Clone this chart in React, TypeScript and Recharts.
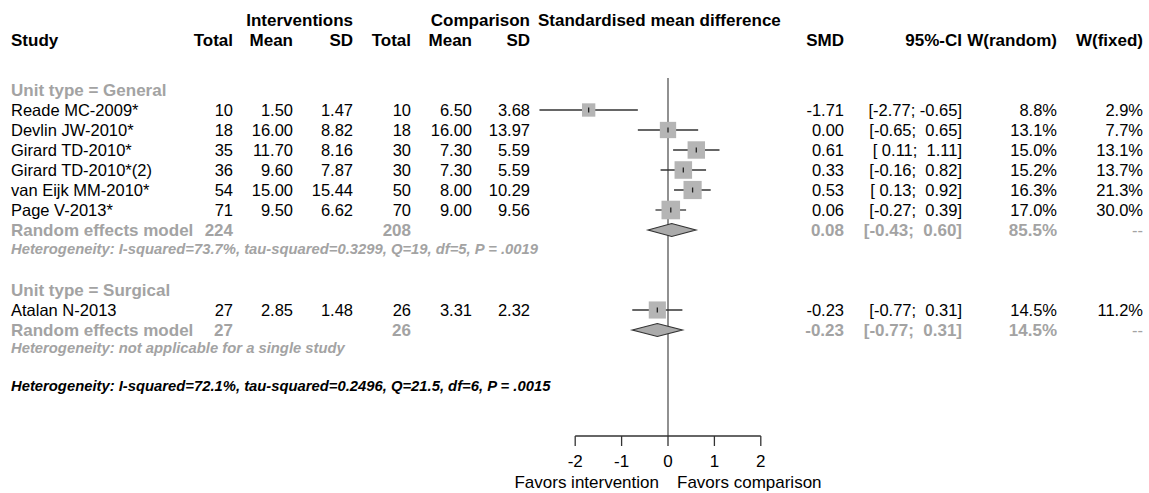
import React from 'react';
import { ComposedChart, Scatter, XAxis, YAxis, ReferenceLine, ErrorBar } from 'recharts';

// studies (row index = position in the table)
const studyNames = ['Reade MC-2009*', 'Devlin JW-2010*', 'Girard TD-2010*', 'Girard TD-2010*(2)', 'van Eijk MM-2010*', 'Page V-2013*', 'Atalan N-2013'];
const studyRows = [0, 1, 2, 3, 4, 5, 10];
const intTotal = [10, 18, 35, 36, 54, 71, 27];
const intMean = [1.5, 16.0, 11.7, 9.6, 15.0, 9.5, 2.85];
const intSD = [1.47, 8.82, 8.16, 7.87, 15.44, 6.62, 1.48];
const compTotal = [10, 18, 30, 30, 50, 70, 26];
const compMean = [6.5, 16.0, 7.3, 7.3, 8.0, 9.0, 3.31];
const compSD = [3.68, 13.97, 5.59, 5.59, 10.29, 9.56, 2.32];
const smd = [-1.71, 0.0, 0.61, 0.33, 0.53, 0.06, -0.23];
const ciLow = [-2.77, -0.65, 0.11, -0.16, 0.13, -0.27, -0.77];
const ciHigh = [-0.65, 0.65, 1.11, 0.82, 0.92, 0.39, 0.31];
const wRandom = [8.8, 13.1, 15.0, 15.2, 16.3, 17.0, 14.5];
const wFixed = [2.9, 7.7, 13.1, 13.7, 21.3, 30.0, 11.2];

// subgroups
const groupNames = ['Unit type = General', 'Unit type = Surgical'];
const groupLabelRows = [-1, 9];
const pooledRows = [6, 11];
const hetRows = [6.95, 11.9];
const pooledIntTotal = [224, 27];
const pooledCompTotal = [208, 26];
const pooledSmd = [0.08, -0.23];
const pooledLow = [-0.43, -0.77];
const pooledHigh = [0.6, 0.31];
const pooledWRandom = [85.5, 14.5];
const hetTexts = [
  'Heterogeneity: I-squared=73.7%, tau-squared=0.3299, Q=19, df=5, P = .0019',
  'Heterogeneity: not applicable for a single study',
];
const overallHet = 'Heterogeneity: I-squared=72.1%, tau-squared=0.2496, Q=21.5, df=6, P = .0015';
const overallHetRow = 13.8;

const axisTicks = [-2, -1, 0, 1, 2];

// layout
const W = 1149;
const H = 493;
const ZERO_PX = 668;
const PX_PER_UNIT = 46.4;
const ROW0_PX = 110;
const ROW_PX = 20;
const AXIS_H = 57;
const PLOT_BOTTOM = H - AXIS_H;
const xDomain = [(0 - ZERO_PX) / PX_PER_UNIT, (W - ZERO_PX) / PX_PER_UNIT];
const yDomain = [(0 - ROW0_PX) / ROW_PX, (PLOT_BOTTOM - ROW0_PX) / ROW_PX];

const COL: Record<string, number> = {
  study: 11,
  intTotal: 233,
  intMean: 293,
  intSD: 353,
  compTotal: 411,
  compMean: 472,
  compSD: 530,
  smd: 844,
  ci: 962,
  wr: 1057,
  wf: 1143,
  smdHead: 538,
};

const FONT = '"Liberation Sans", Arial, Helvetica, sans-serif';
const GREY = '#a3a3a3';
const DARK = '#333';

const f2 = (v: number) => v.toFixed(2);
const ci = (lo: number, hi: number) => `[${f2(lo).padStart(5)}; ${f2(hi).padStart(5)}]`;
const pct = (v: number) => v.toFixed(1) + '%';

type Cell = { text: string; col: string; anchor?: 'start' | 'middle' | 'end'; kind?: string };

const R = (text: string, col: string, kind = 'normal'): Cell => ({ text, col, anchor: 'end', kind });
const L = (text: string, col: string, kind = 'normal'): Cell => ({ text, col, anchor: 'start', kind });

// table rows
const tableRows: { x: number; y: number; cells: Cell[] }[] = [];
tableRows.push({
  x: 0, y: -4.5, cells: [
    R('Interventions', 'intSD', 'bold'),
    R('Comparison', 'compSD', 'bold'),
    L('Standardised mean difference', 'smdHead', 'bold'),
  ],
});
tableRows.push({
  x: 0, y: -3.5, cells: [
    L('Study', 'study', 'bold'),
    R('Total', 'intTotal', 'bold'), R('Mean', 'intMean', 'bold'), R('SD', 'intSD', 'bold'),
    R('Total', 'compTotal', 'bold'), R('Mean', 'compMean', 'bold'), R('SD', 'compSD', 'bold'),
    R('SMD', 'smd', 'bold'), R('95%-CI', 'ci', 'bold'), R('W(random)', 'wr', 'bold'), R('W(fixed)', 'wf', 'bold'),
  ],
});
studyNames.forEach((name, i) => {
  tableRows.push({
    x: 0, y: studyRows[i], cells: [
      L(name, 'study'),
      R(String(intTotal[i]), 'intTotal'), R(f2(intMean[i]), 'intMean'), R(f2(intSD[i]), 'intSD'),
      R(String(compTotal[i]), 'compTotal'), R(f2(compMean[i]), 'compMean'), R(f2(compSD[i]), 'compSD'),
      R(f2(smd[i]), 'smd'), R(ci(ciLow[i], ciHigh[i]), 'ci'), R(pct(wRandom[i]), 'wr'), R(pct(wFixed[i]), 'wf'),
    ],
  });
});
groupNames.forEach((g, i) => {
  tableRows.push({ x: 0, y: groupLabelRows[i], cells: [L(g, 'study', 'greyBold')] });
  tableRows.push({
    x: 0, y: pooledRows[i], cells: [
      L('Random effects model', 'study', 'greyBold'),
      R(String(pooledIntTotal[i]), 'intTotal', 'greyBold'),
      R(String(pooledCompTotal[i]), 'compTotal', 'greyBold'),
      R(f2(pooledSmd[i]), 'smd', 'greyBold'),
      R(ci(pooledLow[i], pooledHigh[i]), 'ci', 'greyBold'),
      R(pct(pooledWRandom[i]), 'wr', 'greyBold'),
      R('--', 'wf', 'grey'),
    ],
  });
  tableRows.push({ x: 0, y: hetRows[i], cells: [L(hetTexts[i], 'study', 'het')] });
});
tableRows.push({ x: 0, y: overallHetRow, cells: [L(overallHet, 'study', 'hetBlack')] });

const kindStyle = (kind?: string): React.CSSProperties => {
  switch (kind) {
    case 'bold': return { fontWeight: 700, fill: '#000', fontSize: 17 };
    case 'greyBold': return { fontWeight: 700, fill: GREY, fontSize: 17 };
    case 'grey': return { fill: GREY, fontSize: 16.5 };
    case 'het': return { fontWeight: 700, fontStyle: 'italic', fill: GREY, fontSize: 14.8 };
    case 'hetBlack': return { fontWeight: 700, fontStyle: 'italic', fill: '#000', fontSize: 14.8 };
    default: return { fill: '#000', fontSize: 16.5 };
  }
};

const TableRow = (props: any) => {
  const { cy, payload } = props;
  return (
    <g>
      {payload.cells.map((c: Cell, j: number) => (
        <text key={j} x={COL[c.col]} y={cy} textAnchor={c.anchor} dominantBaseline="central"
          style={{ fontFamily: FONT, whiteSpace: 'pre', ...kindStyle(c.kind) }}>
          {c.text}
        </text>
      ))}
    </g>
  );
};

const studyData = studyNames.map((name, i) => ({
  name,
  x: smd[i],
  y: studyRows[i],
  err: [smd[i] - ciLow[i], ciHigh[i] - smd[i]],
  w: wRandom[i],
}));

const StudySquare = (props: any) => {
  const { cx, cy, payload } = props;
  const s = 4.5 * Math.sqrt(payload.w);
  return (
    <g>
      <rect x={cx - s / 2} y={cy - s / 2} width={s} height={s} fill="#b5b5b5" />
      <line x1={cx} x2={cx} y1={cy - 2.5} y2={cy + 2.5} stroke="#222" strokeWidth={1.3} />
    </g>
  );
};

// diamond from the three scaled points lower / estimate / upper
const DiamondLine = (props: any) => {
  const pts = props.points;
  if (!pts || pts.length < 3) return <g />;
  const [a, b, c] = pts;
  const h = 6.5;
  return (
    <polygon
      points={`${a.x},${a.y} ${b.x},${b.y - h} ${c.x},${c.y} ${b.x},${b.y + h}`}
      fill="#ababab" stroke={DARK} strokeWidth={1.2}
    />
  );
};

const AxisTick = (props: any) => {
  const { x, y, payload } = props;
  const st = { fontFamily: FONT, fontSize: 17, fill: '#000' };
  return (
    <g>
      <text x={x} y={y + 13} textAnchor="middle" dominantBaseline="central" style={st}>{payload.value}</text>
      {payload.value === 0 && (
        <>
          <text x={x - 9} y={y + 34} textAnchor="end" dominantBaseline="central" style={st}>Favors intervention</text>
          <text x={x + 9} y={y + 34} textAnchor="start" dominantBaseline="central" style={st}>Favors comparison</text>
        </>
      )}
    </g>
  );
};

export default function App() {
  return (
    <div style={{ position: 'absolute', left: 0, top: 0, width: W, height: H, background: '#fff' }}>
      <ComposedChart width={W} height={H} margin={{ top: 0, right: 0, bottom: 0, left: 0 }}>
        <XAxis type="number" dataKey="x" domain={xDomain} allowDataOverflow ticks={axisTicks} interval={0}
          axisLine={false} tickSize={10} tickLine={{ stroke: DARK, strokeWidth: 1.3 }} height={AXIS_H} tick={<AxisTick />} />
        <YAxis type="number" dataKey="y" domain={yDomain} allowDataOverflow reversed hide />

        <ReferenceLine segment={[{ x: 0, y: -1.6 }, { x: 0, y: yDomain[1] }]} stroke="#555" strokeWidth={1.3} ifOverflow="visible" />
        <ReferenceLine segment={[{ x: axisTicks[0], y: yDomain[1] }, { x: axisTicks[axisTicks.length - 1], y: yDomain[1] }]}
          stroke={DARK} strokeWidth={1.3} ifOverflow="visible" />

        <Scatter data={tableRows} shape={<TableRow />} isAnimationActive={false} />

        <Scatter data={studyData} shape={<StudySquare />} isAnimationActive={false}>
          <ErrorBar dataKey="err" direction="x" width={0} stroke={DARK} strokeWidth={1.3} />
        </Scatter>

        {pooledSmd.map((est, i) => (
          <Scatter key={i}
            data={[
              { x: pooledLow[i], y: pooledRows[i] },
              { x: est, y: pooledRows[i] },
              { x: pooledHigh[i], y: pooledRows[i] },
            ]}
            line={DiamondLine} shape={() => <g />} isAnimationActive={false} />
        ))}
      </ComposedChart>
    </div>
  );
}
